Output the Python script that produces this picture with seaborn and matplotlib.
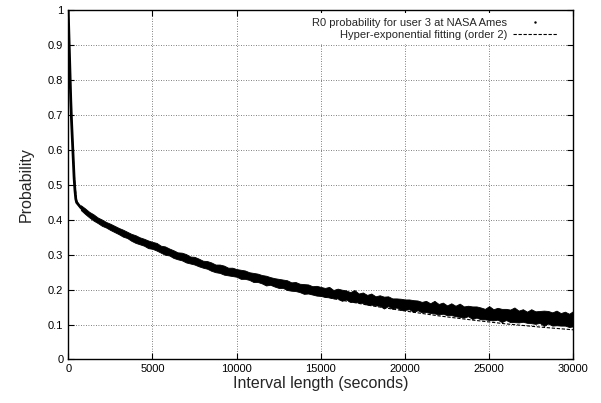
import numpy as np
import pandas as pd
import matplotlib
matplotlib.use('Agg')
import matplotlib.pyplot as plt
from matplotlib.lines import Line2D
import seaborn as sns

# 测得的 R0 概率：前段陡降部分
early_x = [0, 50, 100, 150, 200, 250, 300, 350, 400, 450, 500]
early_y = [1.000, 0.910, 0.830, 0.745, 0.680, 0.625, 0.575, 0.520, 0.485, 0.460, 0.450]

# 之后每 250 秒：点云中心值和上下散布半宽
late_x = list(range(750, 30001, 250))
late_mid = [
    0.435, 0.425, 0.415, 0.407, 0.399, 0.392, 0.386, 0.380, 0.374, 0.368,
    0.362, 0.357, 0.350, 0.345, 0.340, 0.336, 0.330, 0.327, 0.323, 0.316,
    0.312, 0.308, 0.302, 0.297, 0.295, 0.290, 0.285, 0.283, 0.278, 0.273,
    0.271, 0.266, 0.261, 0.260, 0.256, 0.252, 0.251, 0.248, 0.244, 0.243,
    0.239, 0.235, 0.234, 0.230, 0.226, 0.225, 0.221, 0.218, 0.217, 0.213,
    0.209, 0.209, 0.205, 0.202, 0.202, 0.198, 0.197, 0.195,
    0.192, 0.193, 0.187, 0.189, 0.184, 0.185, 0.179, 0.182, 0.176, 0.177,
    0.171, 0.173, 0.168, 0.169, 0.163, 0.167, 0.160, 0.162, 0.158, 0.157,
    0.158, 0.153, 0.155, 0.150, 0.152, 0.147, 0.150, 0.144, 0.147, 0.141,
    0.144, 0.139, 0.141, 0.136, 0.139, 0.134, 0.136, 0.132, 0.130, 0.133,
    0.128, 0.131, 0.126, 0.129, 0.125, 0.128, 0.123, 0.126, 0.121, 0.124,
    0.120, 0.122, 0.118, 0.121, 0.116, 0.119, 0.115, 0.117, 0.112, 0.117,
]
late_spread = [
    0.007, 0.008, 0.008, 0.009, 0.008, 0.009, 0.008, 0.009, 0.009, 0.009,
    0.010, 0.009, 0.010, 0.011, 0.010, 0.010, 0.011, 0.010, 0.011, 0.010,
    0.012, 0.010, 0.011, 0.010, 0.011, 0.012, 0.010, 0.011, 0.011, 0.010,
    0.011, 0.012, 0.011, 0.012, 0.013, 0.011, 0.012, 0.011, 0.013, 0.012,
    0.011, 0.013, 0.012, 0.012, 0.014, 0.011, 0.012, 0.013, 0.012, 0.014,
    0.012, 0.013, 0.012, 0.014, 0.013, 0.012, 0.014, 0.013,
    0.013, 0.015, 0.012, 0.014, 0.016, 0.013, 0.014, 0.017, 0.013, 0.015,
    0.014, 0.016, 0.013, 0.015, 0.017, 0.014, 0.015, 0.013, 0.016, 0.015,
    0.014, 0.017, 0.014, 0.015, 0.016, 0.014, 0.018, 0.015,
    0.016, 0.014, 0.017, 0.015, 0.019, 0.016, 0.015, 0.018, 0.016, 0.017,
    0.015, 0.020, 0.016, 0.017, 0.019, 0.016, 0.018, 0.021, 0.017, 0.018,
    0.016, 0.020, 0.018, 0.017, 0.022, 0.018, 0.019, 0.021, 0.018, 0.020,
    0.019, 0.022,
]

# 二阶超指数拟合曲线
fit_x = [0, 50, 100, 150, 200, 300, 400, 500, 700, 1000, 1500, 2000, 3000,
         4000, 5000, 6000, 7000, 8000, 9000, 10000, 12000, 14000, 16000,
         18000, 20000, 22000, 24000, 26000, 28000, 30000]
fit_y = [1.0, 0.90, 0.81, 0.74, 0.68, 0.58, 0.50, 0.455, 0.437, 0.422, 0.403,
         0.388, 0.362, 0.339, 0.320, 0.301, 0.284, 0.268, 0.254, 0.240, 0.215,
         0.193, 0.172, 0.154, 0.139, 0.125, 0.113, 0.102, 0.093, 0.085]

labels = ['R0 probability for user 3 at NASA Ames',
          'Hyper-exponential fitting (order 2)']

data = pd.DataFrame({'x': early_x + late_x, 'y': early_y + late_mid})
band = pd.DataFrame({'x': late_x, 'mid': late_mid, 'spread': late_spread})
fit = pd.DataFrame({'x': fit_x, 'y': fit_y})

sns.set_style('ticks')
plt.rcParams['font.family'] = ['Liberation Sans', 'DejaVu Sans']

fig = plt.figure(figsize=(6.01, 4.03), dpi=100)
ax = fig.add_axes([0.1135, 0.108, 0.8405, 0.866])

ax.grid(True, color='#555555', linestyle=(0, (1, 2)), linewidth=0.6)
ax.set_axisbelow(True)

# 数据点云：中心线 + 散布带
sns.lineplot(data=data, x='x', y='y', ax=ax, color='black', lw=2.0,
             sort=False, estimator=None)
ax.fill_between(band['x'], band['mid'] - band['spread'], band['mid'] + band['spread'],
                color='black', lw=0.6, edgecolor='black')
sns.lineplot(data=fit, x='x', y='y', ax=ax, color='black', lw=0.8,
             sort=False, estimator=None, linestyle=(0, (3, 1.5)))

ax.set_xlim(0, 30000)
ax.set_ylim(0, 1)
ax.set_xticks(range(0, 30001, 5000))
ax.set_yticks([i / 10 for i in range(11)])
ax.set_yticklabels(['0'] + [f'{i / 10:.1f}' for i in range(1, 10)] + ['1'])
ax.tick_params(direction='in', length=4, width=0.8, labelsize=8,
               top=True, right=True, colors='black')
for s in ax.spines.values():
    s.set_linewidth(1.0)
    s.set_color('black')
ax.set_xlabel('Interval length (seconds)', fontsize=11.5, labelpad=1)
ax.set_ylabel('Probability', fontsize=11.5, labelpad=10)

# 图例：文字右对齐，白底遮住网格线
handles = [Line2D([], [], color='black', marker='.', markersize=1.5, linestyle='None'),
           Line2D([], [], color='black', lw=0.8, linestyle=(0, (3, 1.5)))]
leg = ax.legend(handles, labels, loc='upper right', bbox_to_anchor=(0.977, 0.992),
                frameon=True, fancybox=False, framealpha=1, fontsize=8,
                markerfirst=False, handlelength=4.0, handletextpad=0.5,
                labelspacing=0.2, borderaxespad=0)
leg.get_frame().set_facecolor('white')
leg.get_frame().set_edgecolor('none')

fig.savefig('out.png', dpi=100)
